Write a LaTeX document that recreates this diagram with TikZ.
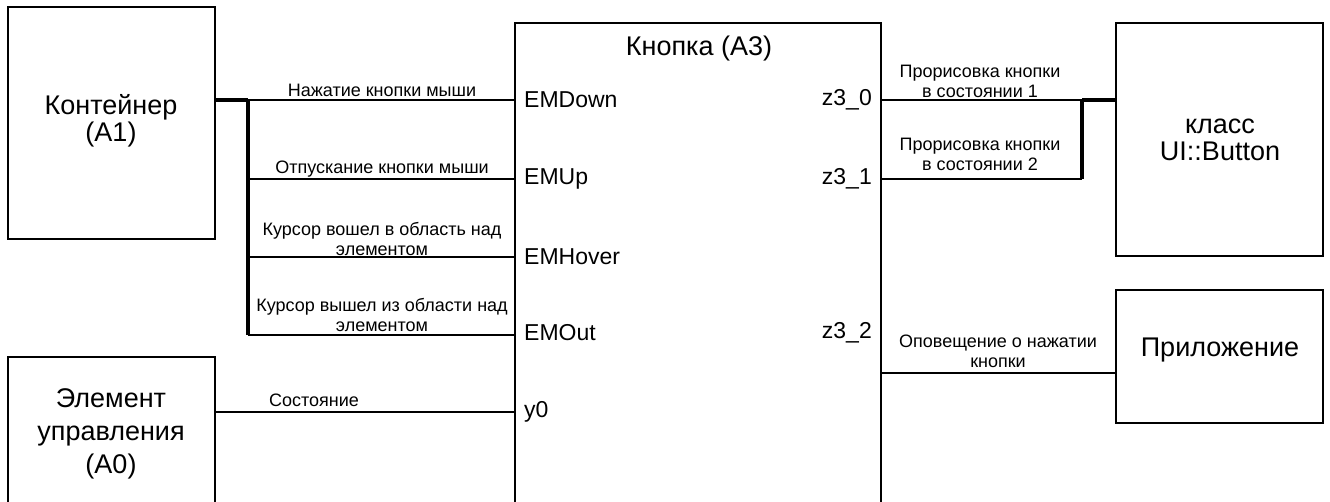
\documentclass[tikz,border=0pt]{standalone}
\usepackage{fontspec}
\setmainfont{Liberation Sans}
\begin{document}
\begin{tikzpicture}[x=1pt,y=-1pt,
  blk/.style={draw,line width=1.3pt,rectangle,inner sep=0pt},
  thin/.style={line width=1.3pt},
  thick/.style={line width=4.5pt},
  big/.style={inner sep=0pt,align=center,font=\fontsize{27}{33}\selectfont},
  tight/.style={font=\fontsize{27}{27}\selectfont},
  port/.style={inner sep=0pt,font=\fontsize{23}{27}\selectfont},
  lbl/.style={inner sep=0pt,align=center,font=\fontsize{18}{20}\selectfont}]
\useasboundingbox (0,0) rectangle (1330,502);
\clip (0,0) rectangle (1330,502);
% boxes
\node[blk,minimum width=207pt,minimum height=232pt] (a1) at (111.5,123) {};
\node[blk,minimum width=207pt,minimum height=160pt] (a0) at (111.5,437) {};
\node[blk,minimum width=366pt,minimum height=500pt] (a3) at (698,273) {};
\node[blk,minimum width=207pt,minimum height=233pt] (ui) at (1219.5,139.5) {};
\node[blk,minimum width=207pt,minimum height=133pt] (app) at (1219.5,356.5) {};
% box texts
\node[big,tight] (ta1) at (111,121) {Контейнер\\(A1)};
\node[big] (ta0) at (111,434) {Элемент\\управления\\(A0)};
\node[big,tight] (tui) at (1220,140) {класс\\UI::Button};
\node[big] (tapp) at (1220,350) {Приложение};
\node[big] (ta3) at (699,49) {Кнопка (А3)};
% ports
\node[port,anchor=west] (p1) at (524,100) {EMDown};
\node[port,anchor=west] (p2) at (524,179) {EMUp};
\node[port,anchor=west] (p3) at (524,257) {EMHover};
\node[port,anchor=west] (p4) at (524,333) {EMOut};
\node[port,anchor=west] (p5) at (524,412) {y0};
\node[port,anchor=east] (q1) at (872,100) {z3\_0};
\node[port,anchor=east] (q2) at (872,179) {z3\_1};
\node[port,anchor=east] (q3) at (872,333) {z3\_2};
% junction coordinates
\coordinate (b1) at (248,100);
\coordinate (b2) at (248,179);
\coordinate (b3) at (248,257);
\coordinate (b4) at (248,335);
\coordinate (s1) at (215,412);
\coordinate (c1) at (1082,100);
\coordinate (c2) at (1082,179);
\coordinate (d1) at (881,373);
% left connectors
\draw[thin] (b1) -- (a3.west |- b1);
\draw[thin] (b2) -- (a3.west |- b2);
\draw[thin] (b3) -- (a3.west |- b3);
\draw[thin] (b4) -- (a3.west |- b4);
\draw[thick] (a1.east |- b1) -- (b1);
\draw[thick] (b1) -- (b4);
\draw[thin] (a0.east |- s1) -- (a3.west |- s1);
% right connectors
\draw[thin] (a3.east |- c1) -- (c1);
\draw[thin] (a3.east |- c2) -- (c2);
\draw[thick] (c1) -- (ui.west |- c1);
\draw[thick] (c1) -- (c2);
\draw[thin] (a3.east |- d1) -- (app.west |- d1);
% labels
\node[lbl] (l1) at (382,90) {Нажатие кнопки мыши};
\node[lbl] (l2) at (382,169) {Отпускание кнопки мыши};
\node[lbl] (l3) at (382,239) {Курсор вошел в область над\\элементом};
\node[lbl] (l4) at (382,315) {Курсор вышел из области над\\элементом};
\node[lbl] (l5) at (314,400) {Состояние};
\node[lbl] (r1) at (980,81) {Прорисовка кнопки\\в состоянии 1};
\node[lbl] (r2) at (980,154) {Прорисовка кнопки\\в состоянии 2};
\node[lbl] (r3) at (998,351) {Оповещение о нажатии\\кнопки};
\end{tikzpicture}
\end{document}
